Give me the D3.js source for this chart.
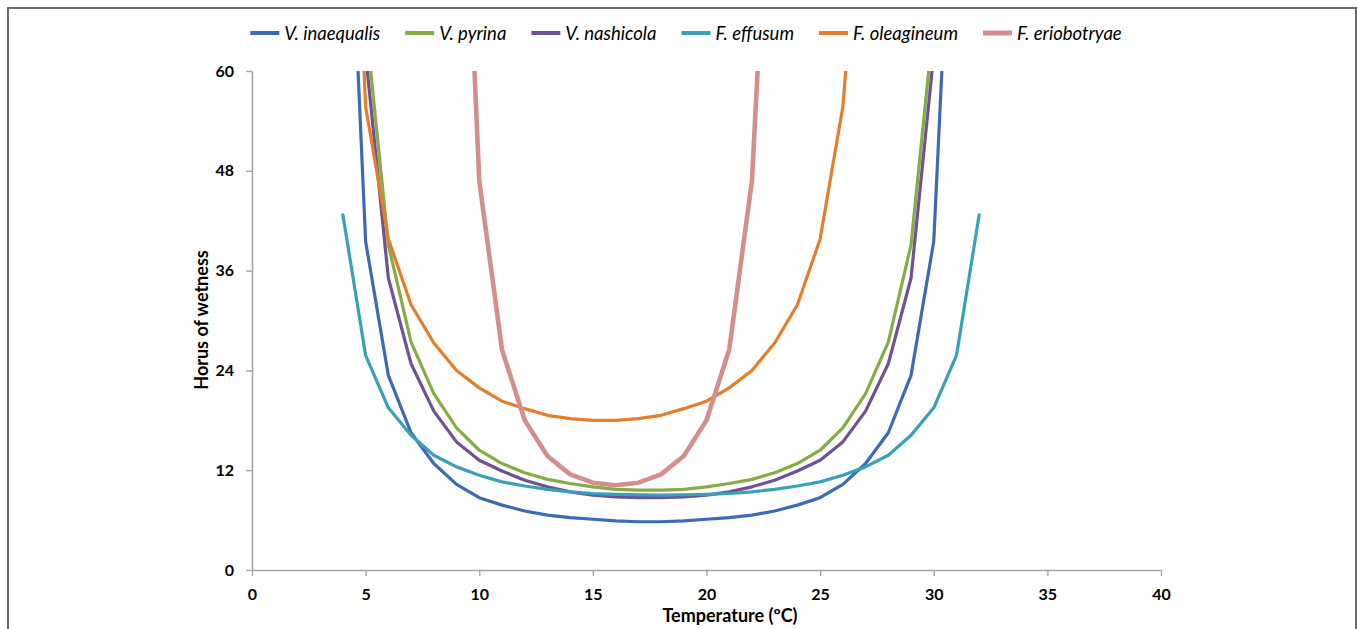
<!DOCTYPE html>
<html>
<head>
<meta charset="utf-8">
<script src="https://cdn.jsdelivr.net/npm/d3@7"></script>
<style>
  html, body { margin: 0; padding: 0; background: #fff; }
  svg { display: block; }
  text { font-family: Lato, "Open Sans", sans-serif; }
</style>
</head>
<body>
<svg id="chart" width="1358" height="629"></svg>
<script>
// ---- data ----
const temperature = [4,5,6,7,8,9,10,11,12,13,14,15,16,17,18,19,20,21,22,23,24,25,26,27,28,29,30,31,32];

const vInaequalis = [101,39.5,23.4,16.5,12.8,10.3,8.7,7.8,7.1,6.6,6.3,6.1,5.9,5.8,5.8,5.9,6.1,6.3,6.6,7.1,7.8,8.7,10.3,12.8,16.5,23.4,39.5,97,null];
const vPyrina     = [null,66,39.1,27.4,21.2,17.1,14.4,12.8,11.7,10.9,10.4,10.0,9.7,9.6,9.6,9.7,10.0,10.4,10.9,11.7,12.8,14.4,17.1,21.2,27.4,39.1,66,null,null];
const vNashicola  = [null,62,35.1,24.8,19.1,15.4,13.2,11.9,10.8,10.0,9.4,9.0,8.8,8.7,8.7,8.8,9.0,9.4,10.0,10.8,11.9,13.2,15.4,19.1,24.8,35.1,62,null,null];
const fEffusum    = [42.7,25.8,19.5,16.2,13.8,12.4,11.4,10.6,10.1,9.7,9.4,9.2,9.1,9.05,9.0,9.05,9.1,9.2,9.4,9.7,10.1,10.6,11.4,12.4,13.8,16.2,19.5,25.8,42.7];
const fOleagineum = [120,55.7,39.8,31.9,27.3,24.0,21.9,20.3,19.4,18.6,18.2,18.0,18.0,18.2,18.6,19.4,20.3,21.9,24.0,27.3,31.9,39.8,55.7,90,null,null,null,null,null];
const fEriobotryae= [null,null,null,null,null,110,46.8,26.5,18.0,13.7,11.5,10.5,10.2,10.5,11.5,13.7,18.0,26.5,46.8,100,null,null,null,null,null,null,null,null,null];

const seriesNames = ["V. inaequalis","V. pyrina","V. nashicola","F. effusum","F. oleagineum","F. eriobotryae"];
const seriesValues = [vInaequalis, vPyrina, vNashicola, fEffusum, fOleagineum, fEriobotryae];
const seriesColors = ["#3B6BB3","#85AD45","#6F5196","#3AA0BA","#E57E2A","#D48E8E"];
const seriesWidths = [3.2,3.2,3.2,3.2,3.2,4.6];

const xTicks = [0,5,10,15,20,25,30,35,40];
const yTicks = [0,12,24,36,48,60];
const xTitle = "Temperature (ºC)";
const yTitle = "Horus of wetness";

// ---- layout ----
const svg = d3.select("#chart");
const plotLeft = 252, plotRight = 1161, plotTop = 71, plotBottom = 570;

// frame
svg.append("rect").attr("x", 8).attr("y", 8).attr("width", 1348).attr("height", 640)
  .attr("fill", "none").attr("stroke", "#6a6a6a").attr("stroke-width", 2);

const x = d3.scaleLinear().domain([0, 40]).range([plotLeft, plotRight]);
const y = d3.scaleLinear().domain([0, 60]).range([plotBottom, plotTop]);

const axisColor = "#a6a6a6";

// x axis
const gx = svg.append("g").attr("transform", `translate(0,${plotBottom})`)
  .call(d3.axisBottom(x).tickValues(xTicks).tickSize(6).tickSizeOuter(0).tickPadding(13));
gx.select(".domain").attr("stroke", axisColor).attr("stroke-width", 1.6);
gx.selectAll(".tick line").attr("stroke", axisColor).attr("stroke-width", 1.4);
gx.selectAll(".tick text").attr("font-size", 16).attr("font-weight", "bold").attr("fill", "#000")
  .attr("font-family", "Lato, sans-serif");

// y axis
const gy = svg.append("g").attr("transform", `translate(${plotLeft},0)`)
  .call(d3.axisLeft(y).tickValues(yTicks).tickSize(6).tickSizeOuter(0).tickPadding(12));
gy.select(".domain").attr("stroke", axisColor).attr("stroke-width", 1.6);
gy.selectAll(".tick line").attr("stroke", axisColor).attr("stroke-width", 1.4);
gy.selectAll(".tick text").attr("font-size", 16).attr("font-weight", "bold").attr("fill", "#000")
  .attr("font-family", "Lato, sans-serif");

// axis titles
svg.append("text").attr("x", 730).attr("y", 622).attr("text-anchor", "middle")
  .attr("font-size", 18).attr("font-weight", "bold").attr("fill", "#000").text(xTitle);
svg.append("text").attr("transform", `translate(208,320) rotate(-90)`).attr("text-anchor", "middle")
  .attr("font-size", 18).attr("font-weight", "bold").attr("fill", "#000").text(yTitle);

// clip
svg.append("clipPath").attr("id", "plotclip").append("rect")
  .attr("x", plotLeft - 5).attr("y", plotTop).attr("width", plotRight - plotLeft + 10).attr("height", plotBottom - plotTop);

const line = d3.line()
  .defined(d => d.v != null)
  .x(d => x(d.t))
  .y(d => y(d.v));

const gLines = svg.append("g").attr("clip-path", "url(#plotclip)");
seriesValues.forEach((vals, i) => {
  const data = temperature.map((t, j) => ({t, v: vals[j]}));
  gLines.append("path").datum(data)
    .attr("fill", "none")
    .attr("stroke", seriesColors[i])
    .attr("stroke-width", seriesWidths[i])
    .attr("stroke-linejoin", "round")
    .attr("stroke-linecap", "round")
    .attr("d", line);
});

// legend
const legendGap = 25;
const legend = svg.append("g");
let cx = 0;
seriesNames.forEach((name, i) => {
  const g = legend.append("g").attr("transform", `translate(${cx},0)`);
  g.append("line").attr("x1", 0).attr("x2", 29).attr("y1", 0).attr("y2", 0)
    .attr("stroke", seriesColors[i]).attr("stroke-width", i === 5 ? 5 : 4);
  const t = g.append("text").attr("x", 34).attr("y", 6.5)
    .attr("font-size", 18.5).attr("font-style", "italic").attr("fill", "#000").text(name);
  cx += 34 + t.node().getComputedTextLength() + legendGap;
});
const legendWidth = cx - legendGap;
legend.attr("transform", `translate(${686 - legendWidth / 2},33)`);
</script>
</body>
</html>
